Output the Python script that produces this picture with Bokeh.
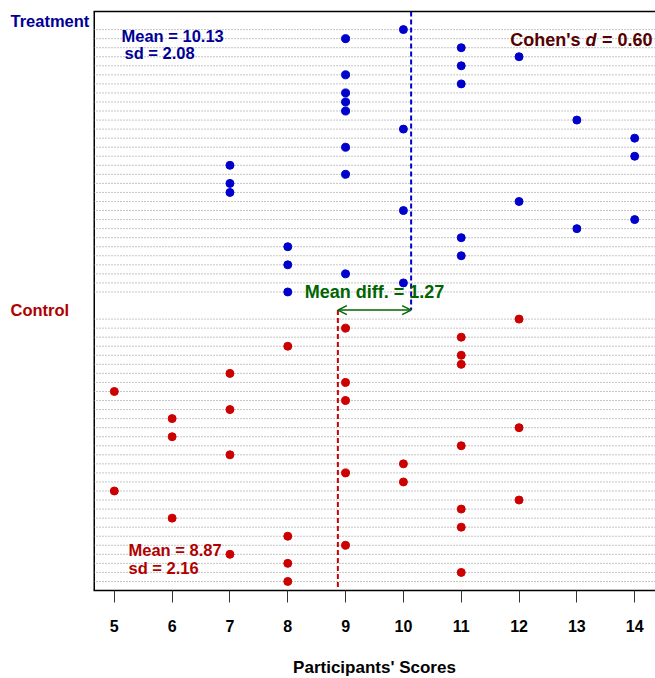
import numpy as np
from bokeh.plotting import figure
from bokeh.layouts import row
from bokeh.models import (Label, LinearAxis, FixedTicker, Range1d, Arrow, OpenHead)
from bokeh.core.properties import value
from bokeh.embed import file_html
from bokeh.resources import INLINE

# Participants' scores, listed top to bottom within each group
treatment = [10, 9, 11, 12, 11, 9, 11, 9, 9, 9, 13, 10, 14, 9, 14,
             7, 9, 7, 7, 12, 10, 14, 13, 11, 8, 11, 8, 9, 10, 8]
control = [12, 9, 11, 8, 11, 11, 7, 9, 5, 9, 7, 6, 12, 6, 11,
           7, 10, 9, 10, 5, 12, 11, 6, 11, 8, 9, 7, 8, 11, 8]
groups = ["Treatment", "Control"]
score_ticks = [5, 6, 7, 8, 9, 10, 11, 12, 13, 14]

FONT = "Liberation Sans"
BLUE_PT, BLUE_TX = "#0000CD", "#000099"
RED_PT, RED_TX = "#CD0000", "#B00000"
GREEN = "#006400"

# summary statistics
mt, mc = np.mean(treatment), np.mean(control)
st, sc = np.std(treatment, ddof=1), np.std(control, ddof=1)
diff = mt - mc
cohen_d = diff / np.sqrt((st ** 2 + sc ** 2) / 2)

# row layout (counted from the top): group label row, then one row per participant,
# a blank row between the groups
n_t, n_c = len(treatment), len(control)
t_label_row = 1
t_rows = list(range(t_label_row + 1, t_label_row + 1 + n_t))
c_label_row = t_rows[-1] + 2
c_rows = list(range(c_label_row + 1, c_label_row + 1 + n_c))
n_rows = c_rows[-1] + 1

span = score_ticks[-1] - score_ticks[0]
XMIN, XMAX = score_ticks[0] - 0.04 * span, score_ticks[-1] + 0.04 * span
MARGIN_W, BOX_W, BOX_H, TOP = 93, 562, 579, 11

# ---- left margin panel with the group names ----
side = figure(frame_width=MARGIN_W, frame_height=BOX_H, output_backend="svg",
              toolbar_location=None, x_range=Range1d(0, MARGIN_W),
              y_range=Range1d(n_rows, 0), min_border_left=0, min_border_right=0,
              min_border_top=TOP, min_border_bottom=0,
              x_axis_location=None, y_axis_location=None)
side.outline_line_color = None
side.xgrid.grid_line_color = None
side.ygrid.grid_line_color = None
side.text(x=[10, 10], y=[t_label_row, c_label_row], text=groups,
          text_color=[BLUE_TX, RED_TX], text_font=value(FONT),
          text_font_style="bold", text_font_size="16.5px",
          text_align="left", text_baseline="middle")

# ---- main dot chart ----
p = figure(frame_width=BOX_W, frame_height=BOX_H, output_backend="svg",
           toolbar_location=None, x_range=Range1d(XMIN, XMAX),
           y_range=Range1d(n_rows, 0), min_border_left=0, min_border_right=0,
           min_border_top=TOP, min_border_bottom=0,
           x_axis_location="below", y_axis_location=None)
p.outline_line_color = None
p.xgrid.grid_line_color = None
p.ygrid.grid_line_color = None

# bottom axis
xa = p.xaxis[0]
xa.ticker = FixedTicker(ticks=score_ticks)
xa.axis_line_color = "black"
xa.axis_line_width = 1.5
xa.major_tick_out = 12
xa.major_tick_in = 0
xa.minor_tick_line_color = None
xa.major_tick_line_color = "#333333"
xa.major_label_text_font = FONT
xa.major_label_text_font_style = "bold"
xa.major_label_text_font_size = "16px"
xa.major_label_text_color = "black"
xa.major_label_standoff = 17
xa.axis_label = "Participants' Scores"
xa.axis_label_text_font = FONT
xa.axis_label_text_font_style = "bold"
xa.axis_label_text_font_size = "17px"
xa.axis_label_text_color = "black"
xa.axis_label_standoff = 23

# top edge of the box
top = LinearAxis(ticker=FixedTicker(ticks=[]), axis_line_color="black",
                 axis_line_width=1.5, major_tick_line_color=None,
                 minor_tick_line_color=None, major_label_text_font_size="0px",
                 major_label_standoff=0)
p.add_layout(top, "above")

# left edge of the box
p.segment(x0=[XMIN], x1=[XMIN], y0=[0], y1=[n_rows], line_color="black",
          line_width=3)

# dotted guide line for every participant row
all_rows = t_rows + c_rows
p.segment(x0=[XMIN] * len(all_rows), x1=[XMAX] * len(all_rows), y0=all_rows,
          y1=all_rows, line_color="#8c8c8c", line_width=1, line_dash="1 2")

# group means
p.segment(x0=[mt], x1=[mt], y0=[0], y1=[c_label_row], line_color=BLUE_PT,
          line_width=2, line_dash="5 3")
p.segment(x0=[mc], x1=[mc], y0=[c_label_row], y1=[n_rows], line_color=RED_PT,
          line_width=2, line_dash="5 3")

# scores
p.scatter(x=treatment, y=t_rows, size=8, color=BLUE_PT)
p.scatter(x=control, y=c_rows, size=8, color=RED_PT)

# mean difference arrow
p.add_layout(Arrow(start=OpenHead(size=9, line_color=GREEN, line_width=1.5),
                   end=OpenHead(size=9, line_color=GREEN, line_width=1.5),
                   x_start=mc, y_start=c_label_row, x_end=mt, y_end=c_label_row,
                   line_color=GREEN, line_width=1.5))


def lab(text, x, y, color, size, x_offset=0, align="left", style="bold"):
    p.add_layout(Label(x=x, y=y, x_offset=x_offset, text=text, text_color=color,
                       text_font=FONT, text_font_style=style, text_font_size=size,
                       text_align=align, text_baseline="middle"))


# summary text
lab(f"Mean = {mt:.2f}", XMIN, 2.76, BLUE_TX, "16.5px", x_offset=28)
lab(f"sd = {st:.2f}", XMIN, 4.64, BLUE_TX, "16.5px", x_offset=31)
lab(f"Mean = {mc:.2f}", XMIN, 59.56, RED_TX, "16.5px", x_offset=35)
lab(f"sd = {sc:.2f}", XMIN, 61.55, RED_TX, "16.5px", x_offset=35)
lab(f"Mean diff. = {diff:.2f}", (mt + mc) / 2, 31.0, GREEN, "18px", align="center")

# Cohen's d with an italic d
COHEN = "#550000"
lab(f"= {cohen_d:.2f}", XMAX, 3.1, COHEN, "18px", x_offset=-3, align="right")
lab("d", XMAX, 3.1, COHEN, "18px", x_offset=-59, align="right", style="bold italic")
lab("Cohen's", XMAX, 3.1, COHEN, "18px", x_offset=-75, align="right")

layout = row(side, p, spacing=0)
open("out.html", "w").write(file_html(layout, INLINE))
